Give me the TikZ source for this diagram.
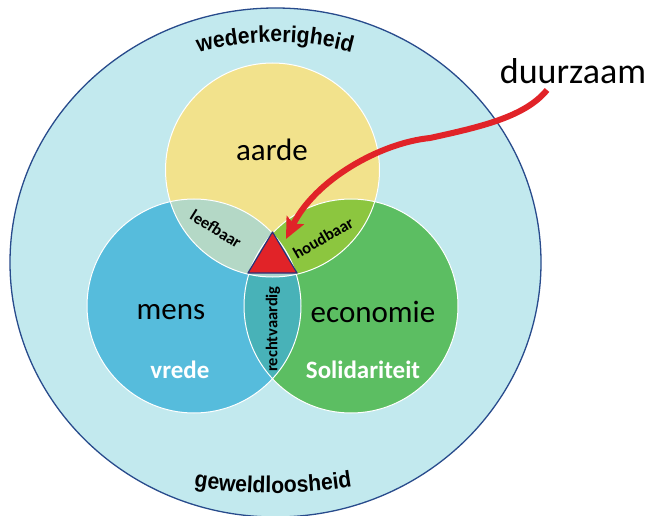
\documentclass[tikz,border=0pt]{standalone}
\usepackage{fontspec}
\setmainfont{Carlito}
\newfontfamily\arialfont{Liberation Sans}[FakeStretch=0.92]
\usetikzlibrary{arrows.meta,decorations.text}
\definecolor{outerfill}{RGB}{194,233,238}
\definecolor{outerline}{RGB}{40,75,140}
\definecolor{yellowc}{RGB}{242,226,140}
\definecolor{bluec}{RGB}{86,188,220}
\definecolor{greenc}{RGB}{92,190,98}
\definecolor{leefc}{RGB}{180,216,198}
\definecolor{houdc}{RGB}{140,198,63}
\definecolor{rechtc}{RGB}{72,178,184}
\definecolor{triplec}{RGB}{170,212,205}
\definecolor{redc}{RGB}{225,35,40}
\definecolor{triline}{RGB}{40,50,120}
\newcommand{\curvfont}{\arialfont\bfseries\fontsize{23}{23}\selectfont}
\begin{document}
\begin{tikzpicture}[x=1pt,y=1pt,
  bigtext/.style={font=\fontsize{31}{31}\selectfont, text=black, inner sep=0pt},
  whitetext/.style={font=\bfseries\fontsize{25}{25}\selectfont, text=white, inner sep=0pt},
  smalltext/.style={font=\bfseries\fontsize{16.5}{16.5}\selectfont, text=black, inner sep=0pt},
  duurtext/.style={font=\fontsize{36}{36}\selectfont, text=black, inner sep=0pt},
  circedge/.style={draw=white, line width=1pt},
  arrowline/.style={draw=redc, line width=6pt, -{Stealth[length=21pt,width=19pt,inset=4pt]}}]
\useasboundingbox (0,0) rectangle (656,515);
\fill[white] (0,0) rectangle (656,515);
% outer ellipse
\draw[draw=outerline, fill=outerfill, line width=1.3pt] (275.5,252.5) ellipse [x radius=265.5, y radius=254.5];
% centres
\coordinate (cy) at (272.5,345);
\coordinate (cb) at (194,209);
\coordinate (cg) at (351,209);
% circles
\fill[yellowc] (cy) circle[radius=107];
\fill[bluec] (cb) circle[radius=107];
\fill[greenc] (cg) circle[radius=107];
\begin{scope}
  \clip (cy) circle[radius=107];
  \fill[leefc] (cb) circle[radius=107];
  \fill[houdc] (cg) circle[radius=107];
\end{scope}
\begin{scope}
  \clip (cb) circle[radius=107];
  \fill[rechtc] (cg) circle[radius=107];
  \clip (cg) circle[radius=107];
  \fill[triplec] (cy) circle[radius=107];
\end{scope}
\draw[circedge] (cy) circle[radius=107];
\draw[circedge] (cb) circle[radius=107];
\draw[circedge] (cg) circle[radius=107];
% triangle
\coordinate (t1) at (272.5,283);
\coordinate (t2) at (248,242);
\coordinate (t3) at (297,242);
\draw[fill=redc, draw=triline, line width=1.2pt, line join=round] (t1) -- (t2) -- (t3) -- cycle;
% texts
\node[bigtext] (aarde) at (272,365) {aarde};
\node[bigtext] (mens) at (171,203) {mens};
\node[bigtext] (econ) at (373,203) {economie};
\node[whitetext] (vrede) at (180,145) {vrede};
\node[whitetext] (solid) at (363,145) {Solidariteit};
\node[smalltext, rotate=-32] (leef) at (216,286) {leefbaar};
\node[smalltext, rotate=30] (houd) at (323,277) {houdbaar};
\node[smalltext, rotate=90] (recht) at (273,186) {rechtvaardig};
\node[duurtext] (duur) at (573,443.5) {duurzaam};
% curved texts
\path[decorate, decoration={text along path, text={|\curvfont|wederkerigheid}, text align=center}]
  (132,434.7) arc[start angle=120, end angle=60, radius=286];
\path[decorate, decoration={text along path, text={|\curvfont|geweldloosheid}, text align=center}]
  (23,89) arc[start angle=240, end angle=300, radius=500];
% arrow
\coordinate (arrS) at (547,425);
\coordinate (arrM) at (430,377);
\coordinate (arrE) at (286,276);
\draw[arrowline] (arrS) .. controls (525,398) and (480,388) .. (arrM)
  .. controls (380,372) and (315,335) .. (arrE);
\end{tikzpicture}
\end{document}
